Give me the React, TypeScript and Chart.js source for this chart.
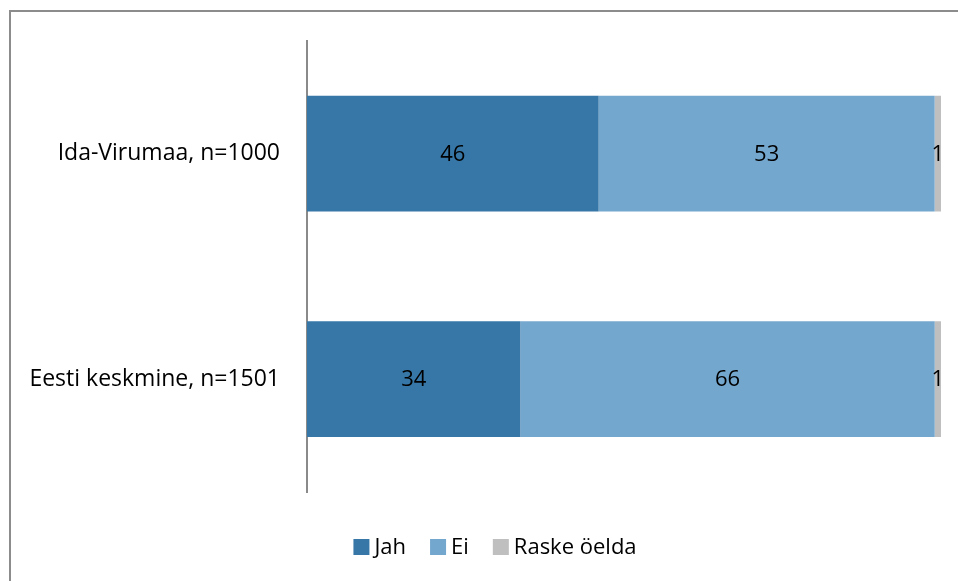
import React, { useEffect, useRef } from "react";
import { Chart, registerables } from "chart.js";

Chart.register(...registerables);

const categories = ["Ida-Virumaa, n=1000", "Eesti keskmine, n=1501"];
const seriesNames = ["Jah", "Ei", "Raske öelda"];
const jahValues = [46, 34];
const eiValues = [53, 66];
const raskeValues = [1, 1];
const seriesColors = ["#3677A8", "#74A7CE", "#BFBFBF"];

const FONT = "'Open Sans', 'Noto Sans', sans-serif";
const FONT_SIZE = 23;

const rawSeries = [jahValues, eiValues, raskeValues];
const totals = categories.map((_, i) => rawSeries.reduce((s, arr) => s + arr[i], 0));
const shares = rawSeries.map((arr) => arr.map((v, i) => (v / totals[i]) * 100));

const valueLabels = {
  id: "valueLabels",
  afterDatasetsDraw(chart: any) {
    const ctx = chart.ctx;
    ctx.save();
    ctx.font = `${FONT_SIZE - 1}px ${FONT}`;
    ctx.fillStyle = "#000";
    ctx.textAlign = "center";
    ctx.textBaseline = "middle";
    chart.data.datasets.forEach((ds: any, di: number) => {
      const meta = chart.getDatasetMeta(di);
      meta.data.forEach((el: any, i: number) => {
        const p = el.getProps(["x", "y", "base"], true);
        const cx = (p.x + p.base) / 2;
        ctx.fillText(String(ds.raw[i]), cx, p.y + 1);
      });
    });
    ctx.restore();
  },
};

const customLegend = {
  id: "customLegend",
  afterDraw(chart: any, _args: any, opts: any) {
    const ctx = chart.ctx;
    ctx.save();
    ctx.font = `${FONT_SIZE - 1}px ${FONT}`;
    ctx.textBaseline = "middle";
    ctx.textAlign = "left";
    const box = 16;
    const gap = 5;
    const itemGap = 24;
    const items = chart.data.datasets.map((ds: any) => ({
      label: ds.label,
      color: ds.backgroundColor,
      w: box + gap + ctx.measureText(ds.label).width,
    }));
    const total = items.reduce((s: number, it: any) => s + it.w, 0) + itemGap * (items.length - 1);
    let x = opts.centerX - total / 2;
    const y = opts.centerY;
    items.forEach((it: any) => {
      ctx.fillStyle = it.color;
      ctx.fillRect(x, y - box / 2, box, box);
      ctx.fillStyle = "#000";
      ctx.fillText(it.label, x + box + gap, y + 1);
      x += it.w + itemGap;
    });
    ctx.restore();
  },
};

export default function App() {
  const ref = useRef<HTMLCanvasElement | null>(null);
  useEffect(() => {
    if (!ref.current) return;
    const chart = new Chart(ref.current, {
      type: "bar",
      data: {
        labels: categories,
        datasets: seriesNames.map((name, si) => ({
          label: name,
          data: shares[si],
          raw: rawSeries[si],
          backgroundColor: seriesColors[si],
          borderWidth: 0,
          categoryPercentage: 1,
          barPercentage: 0.513,
        })) as any,
      },
      options: {
        indexAxis: "y",
        responsive: false,
        animation: false,
        layout: { padding: { top: 39, bottom: 89, left: 0, right: 17 } },
        scales: {
          x: { display: false, stacked: true, min: 0, max: 100 },
          y: {
            stacked: true,
            grid: { display: true, drawOnChartArea: false, drawTicks: false },
            border: { display: true, color: "#8a8a8a", width: 2 },
            ticks: { color: "#000", font: { family: FONT, size: FONT_SIZE }, padding: 27 },
            afterFit: (scale: any) => {
              scale.width = 307;
            },
          },
        },
        plugins: {
          legend: { display: false },
          tooltip: { enabled: false },
          customLegend: { centerX: 495, centerY: 547 },
        } as any,
      },
      plugins: [valueLabels, customLegend],
    });
    return () => chart.destroy();
  }, []);
  return (
    <div style={{ position: "fixed", left: 0, top: 0, width: 958, height: 581, overflow: "hidden", background: "#fff" }}>
      <div
        style={{
          position: "absolute",
          left: 9,
          top: 10,
          width: 2000,
          height: 2000,
          border: "2px solid #8c8c8c",
          boxSizing: "border-box",
        }}
      />
      <canvas ref={ref} width={958} height={581} style={{ position: "absolute", left: 0, top: 0, width: 958, height: 581 }} />
    </div>
  );
}
